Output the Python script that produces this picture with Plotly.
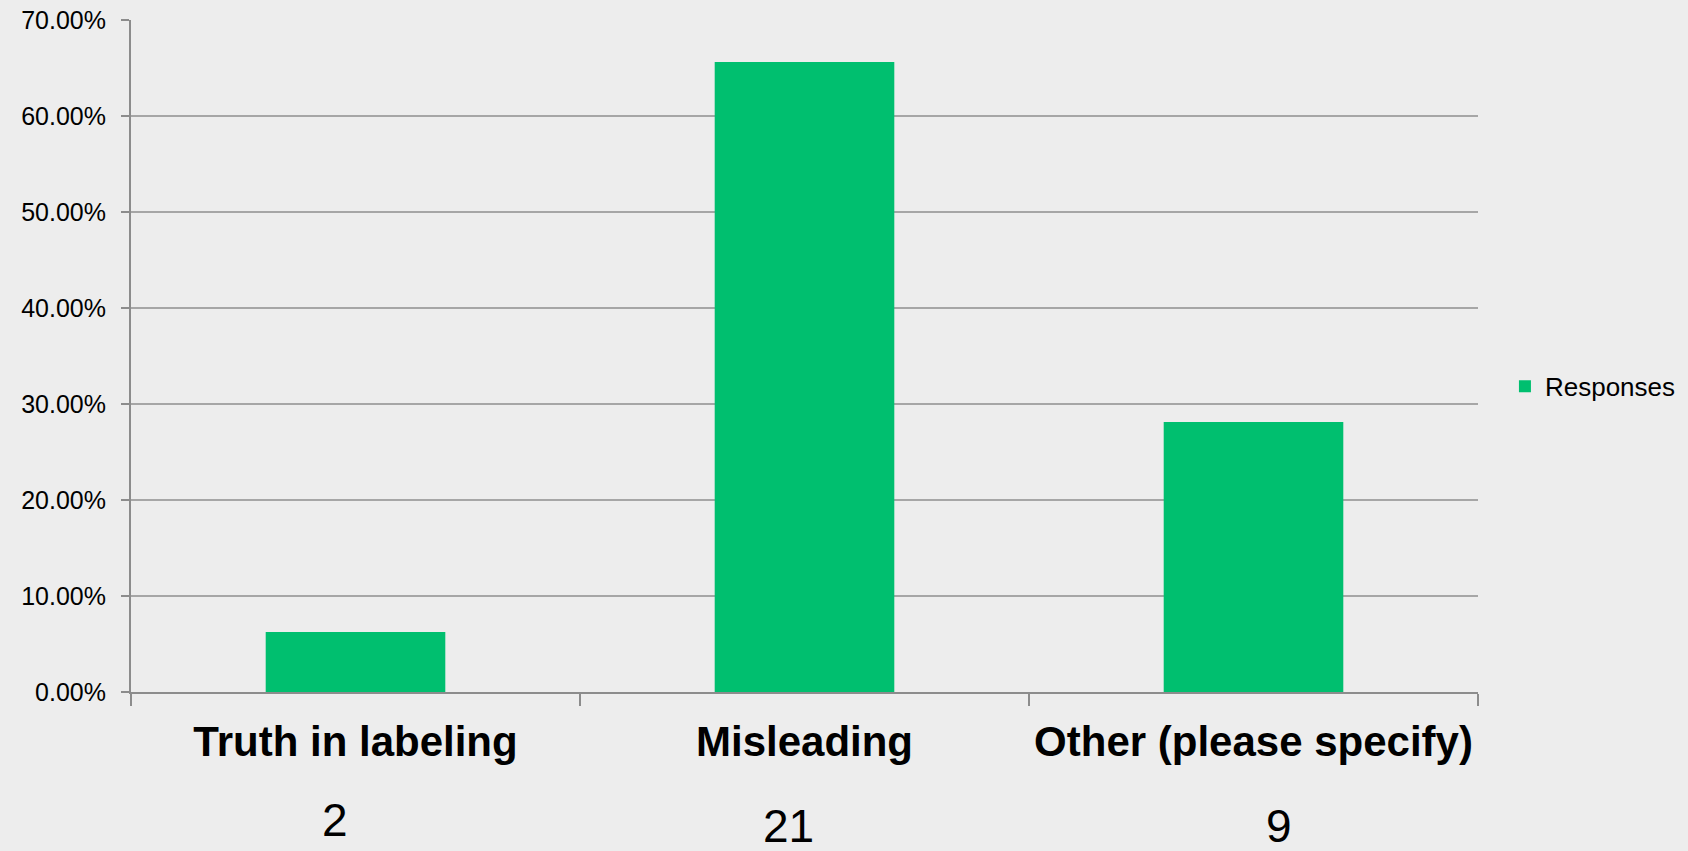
import plotly.graph_objects as go

categories = ["Truth in labeling", "Misleading", "Other (please specify)"]
percentages = [0.0625, 0.65625, 0.28125]
counts = [2, 21, 9]
series_name = "Responses"

# layout helpers (positions of count labels, in data-x / paper-y)
count_x = [-0.046, 0.965, 2.057]
count_y = [-0.19, -0.2, -0.2]

FONT = "Liberation Sans, Arial, sans-serif"
BG = "#ededed"
GREEN = "#00bf6f"

fig = go.Figure()
fig.add_trace(go.Bar(
    x=categories, y=percentages, name=series_name,
    marker=dict(color=GREEN, line=dict(width=0)),
    showlegend=True,
))

for cx, cy, c in zip(count_x, count_y, counts):
    fig.add_annotation(x=cx, y=cy, xref="x", yref="paper", text=str(c),
                       showarrow=False, font=dict(family=FONT, size=46, color="#000"),
                       xanchor="center", yanchor="middle")

fig.update_layout(
    width=1688, height=851,
    margin=dict(l=131, r=210, t=20, b=159, autoexpand=False),
    paper_bgcolor=BG, plot_bgcolor=BG,
    bargap=0.6,
    showlegend=True,
    legend=dict(x=1.02, y=0.455, xanchor="left", yanchor="middle",
                font=dict(family=FONT, size=26, color="#000"),
                bgcolor="rgba(0,0,0,0)", itemwidth=30),
    font=dict(family=FONT, color="#000"),
)
fig.update_xaxes(
    range=[-0.5, 2.5], tickson="boundaries", ticks="outside", ticklen=12,
    tickcolor="#8c8c8c", tickwidth=2, tickangle=0, automargin=False,
    showline=True, linecolor="#8c8c8c", linewidth=2,
    showgrid=False, zeroline=False,
    tickfont=dict(family=FONT, size=42, color="#000", weight="bold"),
    ticklabelstandoff=12,
)
fig.update_yaxes(
    range=[0, 0.7], dtick=0.1, tick0=0, tickformat=".2%",
    ticks="outside", ticklen=8, tickcolor="#8c8c8c", tickwidth=2,
    showline=True, linecolor="#8c8c8c", linewidth=2,
    showgrid=True, gridcolor="#a6a6a6", gridwidth=2,
    zeroline=False, automargin=False,
    tickfont=dict(family=FONT, size=25, color="#000"),
    ticklabelstandoff=10,
)

fig.write_html("out.html", config={"displayModeBar": False},
               post_script="document.body.style.margin='0';document.body.style.overflow='hidden';")
